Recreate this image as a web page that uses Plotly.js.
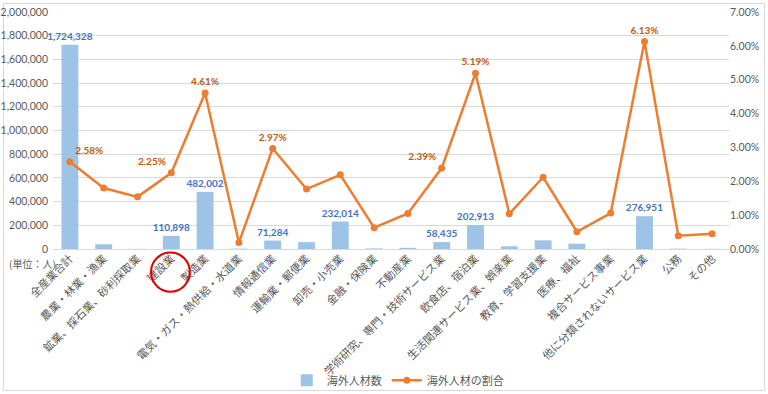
<!DOCTYPE html>
<html><head><meta charset="utf-8">
<script src="https://cdn.plot.ly/plotly-3.0.1.min.js"></script>
<style>
html,body{margin:0;padding:0;background:#fff;}
#frame{position:absolute;left:3px;top:3px;width:760px;height:386px;border:1px solid #d9d9d9;}
#chart{position:absolute;left:0;top:0;width:768px;height:394px;}
</style></head>
<body>
<div id="frame"></div>
<div id="chart"></div>
<script>
const categories = ["全産業合計","農業・林業・漁業","鉱業、採石業、砂利採取業","建設業","製造業","電気・ガス・熱供給・水道業","情報通信業","運輸業・郵便業","卸売・小売業","金融・保険業","不動産業","学術研究、専門・技術サービス業","飲食店、宿泊業","生活関連サービス業、娯楽業","教育、学習支援業","医療、福祉","複合サービス事業","他に分類されないサービス業","公務","その他"];
const workers = [1724328, 40000, 1500, 110898, 482002, 3000, 71284, 58000, 232014, 5000, 10000, 58435, 202913, 23000, 73000, 45000, 1500, 276951, 3000, 1500];
const workerLabels = ["1,724,328","","","110,898","482,002","","71,284","","232,014","","","58,435","202,913","","","","","276,951","",""];
const ratio = [0.0258, 0.0180, 0.0154, 0.0225, 0.0461, 0.0019, 0.0297, 0.0177, 0.0219, 0.0063, 0.0105, 0.0239, 0.0519, 0.0104, 0.0212, 0.0051, 0.0106, 0.0613, 0.0039, 0.0045];
const ratioLabels = ["2.58%","","","2.25%","4.61%","","2.97%","","","","","2.39%","5.19%","","","","","6.13%","",""];
const ratioLabelPos = ["top right","top center","top center","top left","top center","top center","top center","top center","top center","top center","top center","top left","top center","top center","top center","top center","top center","top center","top center","top center"];

const jp = "'Noto Sans CJK JP', 'Noto Sans', sans-serif";
const num = "Lato, 'Liberation Sans', sans-serif";

const traces = [
  {type:'bar', name:'海外人材数', x:categories, y:workers, marker:{color:'#9DC3E6'},
   text:workerLabels, textposition:'outside', cliponaxis:false, constraintext:'none',
   textfont:{family:num, size:10, color:'#4472C4', weight:'bold'}, width:0.5, hoverinfo:'none'},
  {type:'scatter', mode:'lines+markers+text', name:'海外人材の割合', x:categories, y:ratio, yaxis:'y2',
   line:{color:'#ED7D31', width:2.5}, marker:{color:'#ED7D31', size:7},
   text:ratioLabels, textposition:ratioLabelPos, cliponaxis:false,
   textfont:{family:num, size:10, color:'#C55A11', weight:'bold'}, hoverinfo:'none'}
];

const layout = {
  width:768, height:394,
  margin:{l:53, r:39, t:12, b:145, autoexpand:false},
  paper_bgcolor:'rgba(0,0,0,0)', plot_bgcolor:'rgba(0,0,0,0)',
  font:{family:jp, color:'#595959', size:11},
  showlegend:true,
  legend:{orientation:'h', x:0.51, xanchor:'center', yref:'container', y:0.035, yanchor:'middle',
          font:{family:jp, size:11, color:'#595959'}},
  bargap:0.5,
  xaxis:{type:'category', range:[-0.5,19.5], tickangle:-45, tickfont:{family:jp, size:11, color:'#595959'},
         showgrid:false, showline:false, ticks:'', zeroline:false, automargin:false},
  yaxis:{range:[0,2000000], dtick:200000, tickformat:',d', showgrid:true, gridcolor:'#D9D9D9',
         zeroline:true, zerolinecolor:'#D9D9D9', zerolinewidth:1, ticks:'', showline:false,
         ticklabelstandoff:4,
         tickfont:{family:num, size:10.5, color:'#595959'}, automargin:false, fixedrange:true},
  yaxis2:{overlaying:'y', side:'right', range:[0,0.07], dtick:0.01, tickformat:'.2%',
          showgrid:false, zeroline:false, ticks:'', showline:false,
          tickfont:{family:num, size:10.5, color:'#595959'}, automargin:false},
  annotations:[
    {xref:'paper', yref:'paper', x:-0.03, y:-0.06, text:'(単位：人)', showarrow:false,
     xanchor:'center', yanchor:'middle', font:{family:jp, size:10, color:'#595959'}}
  ],
  shapes:[
    {type:'circle', xref:'x', yref:'paper', x0:2.4, x1:3.55, y0:-0.18, y1:-0.015,
     line:{color:'#E00000', width:2}}
  ]
};
Plotly.newPlot('chart', traces, layout, {displayModeBar:false, staticPlot:true});
</script>
</body></html>
